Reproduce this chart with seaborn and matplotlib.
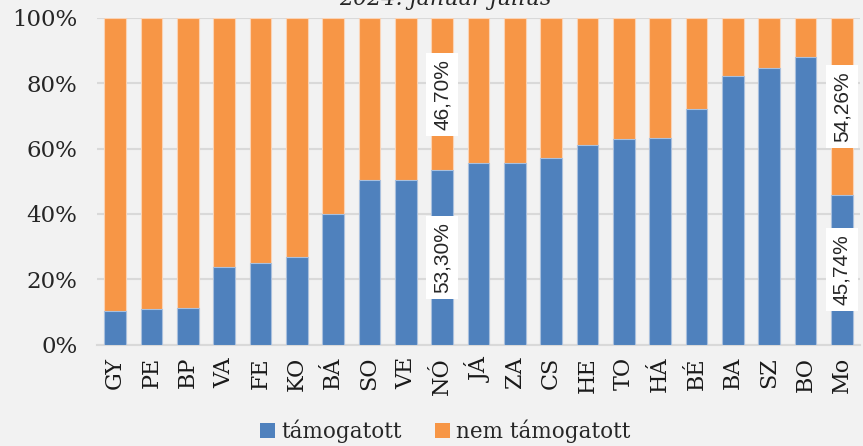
import matplotlib
matplotlib.use("Agg")
import matplotlib.pyplot as plt
import seaborn as sns
import pandas as pd
import numpy as np
from matplotlib.patches import Patch

categories = ["GY", "PE", "BP", "VA", "FE", "KO", "BÁ", "SO", "VE", "NÓ", "JÁ",
              "ZA", "CS", "HE", "TO", "HÁ", "BÉ", "BA", "SZ", "BO", "Mo"]
tamogatott = [10.2, 10.9, 11.3, 23.8, 25.1, 26.8, 40.0, 50.5, 50.5, 53.30, 55.6,
              55.6, 57.2, 61.1, 63.0, 63.2, 72.1, 82.3, 84.6, 88.1, 45.74]
nem_tamogatott = [round(100 - v, 2) for v in tamogatott]
label_cats = ["NÓ", "Mo"]
title = "2024. január-július"
series_names = ["támogatott", "nem támogatott"]

blue = "#4F81BD"
orange = "#F79646"
bg = "#F2F2F2"

sns.set_theme(style="white")
plt.rcParams["font.family"] = ["DejaVu Serif"]

df = pd.DataFrame({"cat": categories, "tam": tamogatott, "nem": nem_tamogatott})
df["total"] = df["tam"] + df["nem"]

fig = plt.figure(figsize=(8.63, 4.46), dpi=100, facecolor=bg)
ax = fig.add_axes([97 / 863, 1 - 344.5 / 446, (860 - 97) / 863, (344.5 - 18) / 446])
ax.set_facecolor(bg)

sns.barplot(data=df, x="cat", y="total", color=orange, saturation=1, width=0.6,
            edgecolor="#FAD3B5", linewidth=0.8, ax=ax, zorder=3)
sns.barplot(data=df, x="cat", y="tam", color=blue, saturation=1, width=0.6,
            edgecolor="#A9C0DE", linewidth=0.8, ax=ax, zorder=4)

ax.set_ylim(0, 100)
ax.set_xlim(-0.5, len(categories) - 0.5)
ax.set_yticks(np.arange(0, 101, 20))
ax.set_yticklabels([f"{v}%" for v in range(0, 101, 20)], fontsize=16.5, color="#262626")
ax.set_xticks(range(len(categories)))
ax.set_xticklabels(categories, rotation=90, fontsize=16, color="#1a1a1a")
ax.tick_params(axis="y", length=0, pad=14)
ax.tick_params(axis="x", length=0, pad=9)
ax.set_xlabel("")
ax.set_ylabel("")
ax.grid(axis="y", color="#D9D9D9", linewidth=1.5, zorder=0)
for s in ["top", "right", "left"]:
    ax.spines[s].set_visible(False)
ax.spines["bottom"].set_color("#D9D9D9")
ax.spines["bottom"].set_linewidth(1.5)

for cat in label_cats:
    i = categories.index(cat)
    t = tamogatott[i]
    n = nem_tamogatott[i]
    for val, ymid in [(t, t / 2), (n, t + n / 2)]:
        ax.text(i, ymid, f"{val:.2f}%".replace(".", ","), rotation=90,
                ha="center", va="center", fontsize=15, color="#262626",
                family=["Liberation Sans", "DejaVu Sans"], zorder=6,
                bbox=dict(boxstyle="square,pad=0.3", facecolor="white", edgecolor="none"))

fig.text(0.516, 1 - 5 / 446, title, ha="center", va="baseline", fontsize=16,
         style="italic", color="#262626")

handles = [Patch(facecolor=blue, edgecolor="none"), Patch(facecolor=orange, edgecolor="none")]
fig.legend(handles, series_names, loc="center", bbox_to_anchor=(0.516, 0.034), ncol=2,
           frameon=False, fontsize=15.5, handlelength=0.7, handleheight=0.7,
           handletextpad=0.3, columnspacing=1.5, borderpad=0.2)

fig.savefig("out.png", dpi=100, facecolor=bg)
